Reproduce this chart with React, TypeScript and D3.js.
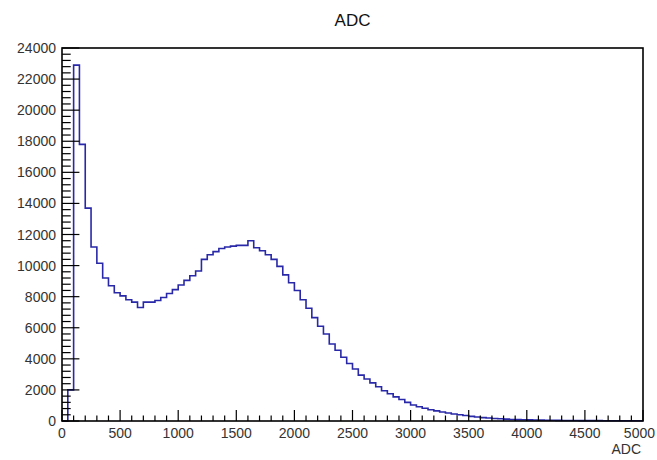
import * as d3 from 'd3';
import { useEffect, useRef } from 'react';

// ADC histogram, 100 bins of 50 counts width from 0 to 5000
const binWidth = 50;
const counts = [
  0, 2000, 22900, 17800, 13700, 11200, 10150, 9200, 8700, 8250,
  8050, 7800, 7650, 7300, 7650, 7650, 7750, 7950, 8200, 8450,
  8750, 9050, 9350, 9650, 10400, 10700, 10900, 11100, 11200, 11250,
  11300, 11300, 11600, 11150, 10950, 10700, 10400, 9950, 9400, 8900,
  8400, 7800, 7250, 6650, 6100, 5600, 4950, 4550, 4100, 3700,
  3350, 2950, 2700, 2450, 2200, 1950, 1750, 1550, 1380, 1200,
  1030, 920, 820, 720, 650, 580, 510, 450, 400, 350,
  300, 260, 220, 190, 160, 140, 120, 100, 90, 80,
  70, 62, 55, 50, 45, 40, 36, 33, 30, 27,
  25, 23, 21, 19, 18, 17, 16, 15, 14, 13,
];

const xTickLabels = ['0', '500', '1000', '1500', '2000', '2500', '3000', '3500', '4000', '4500', '5000'];
const yTickLabels = ['0', '2000', '4000', '6000', '8000', '10000', '12000', '14000', '16000', '18000', '20000', '22000', '24000'];

const width = 657;
const height = 460;
const frame = { left: 62, right: 643, top: 48, bottom: 421 };

const App = () => {
  const svgRef = useRef<SVGSVGElement>(null);

  useEffect(() => {
    const svg = d3.select(svgRef.current);
    svg.selectAll('*').remove();

    const x = d3.scaleLinear().domain([0, 5000]).range([frame.left, frame.right]);
    const y = d3.scaleLinear().domain([0, 24000]).range([frame.bottom, frame.top]);

    const font = 'Liberation Sans, Arial, Helvetica, sans-serif';

    // title
    svg
      .append('text')
      .attr('x', (frame.left + frame.right) / 2)
      .attr('y', 26)
      .attr('text-anchor', 'middle')
      .style('font-family', font)
      .style('font-size', '17px')
      .style('fill', '#111')
      .text('ADC');

    // histogram outline
    const pts: [number, number][] = counts.map((c, i) => [i * binWidth, c]);
    pts.push([counts.length * binWidth, counts[counts.length - 1]]);
    const line = d3
      .line<[number, number]>()
      .x((d) => x(d[0]))
      .y((d) => y(d[1]))
      .curve(d3.curveStepAfter);

    svg
      .append('path')
      .attr('d', line(pts))
      .attr('fill', 'none')
      .attr('stroke', '#2828a8')
      .attr('stroke-width', 1.6);

    // x ticks (inside frame)
    const xMinor = d3.range(0, 5001, 100);
    svg
      .append('g')
      .selectAll('line')
      .data(xMinor)
      .join('line')
      .attr('x1', (d) => x(d))
      .attr('x2', (d) => x(d))
      .attr('y1', frame.bottom)
      .attr('y2', (d) => frame.bottom - (d % 500 === 0 ? 11 : 5.5))
      .attr('stroke', '#000')
      .attr('stroke-width', 1.2);

    svg
      .append('g')
      .selectAll('text')
      .data(xTickLabels)
      .join('text')
      .attr('x', (d, i) => (i === xTickLabels.length - 1 ? 655 : x(+d)))
      .attr('y', 438)
      .attr('text-anchor', (d, i) => (i === xTickLabels.length - 1 ? 'end' : 'middle'))
      .style('font-family', font)
      .style('font-size', '14px')
      .style('fill', '#333')
      .text((d) => d);

    // y ticks (inside frame)
    const yMinor = d3.range(0, 24001, 400);
    svg
      .append('g')
      .selectAll('line')
      .data(yMinor)
      .join('line')
      .attr('x1', frame.left)
      .attr('x2', (d) => frame.left + (d % 2000 === 0 ? 17.4 : 8.7))
      .attr('y1', (d) => y(d))
      .attr('y2', (d) => y(d))
      .attr('stroke', '#000')
      .attr('stroke-width', 1.2);

    svg
      .append('g')
      .selectAll('text')
      .data(yTickLabels)
      .join('text')
      .attr('x', 56)
      .attr('y', (d) => y(+d) + 5)
      .attr('text-anchor', 'end')
      .style('font-family', font)
      .style('font-size', '14px')
      .style('fill', '#333')
      .text((d) => d);

    // frame
    svg
      .append('rect')
      .attr('x', frame.left)
      .attr('y', frame.top)
      .attr('width', frame.right - frame.left)
      .attr('height', frame.bottom - frame.top)
      .attr('fill', 'none')
      .attr('stroke', '#000')
      .attr('stroke-width', 1.6);

    // x axis title
    svg
      .append('text')
      .attr('x', 641)
      .attr('y', 454)
      .attr('text-anchor', 'end')
      .style('font-family', font)
      .style('font-size', '14px')
      .style('fill', '#333')
      .text('ADC');
  }, []);

  return (
    <svg
      ref={svgRef}
      width={width}
      height={height}
      style={{ position: 'absolute', left: 0, top: 0, background: '#fff' }}
    />
  );
};

export default App;
